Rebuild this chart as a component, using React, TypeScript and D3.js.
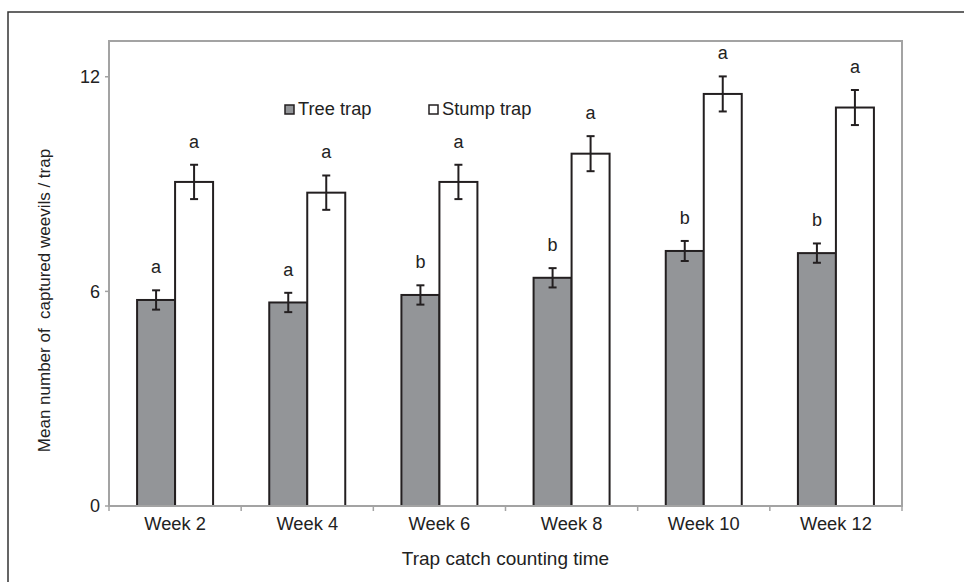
import React from 'react'
import * as d3 from 'd3'

const weeks = ['Week 2', 'Week 4', 'Week 6', 'Week 8', 'Week 10', 'Week 12']
const treeMeans = [5.76, 5.69, 5.9, 6.38, 7.13, 7.07]
const treeErr = [0.27, 0.27, 0.27, 0.27, 0.28, 0.27]
const treeLetters = ['a', 'a', 'b', 'b', 'b', 'b']
const stumpMeans = [9.06, 8.76, 9.06, 9.85, 11.52, 11.14]
const stumpErr = [0.48, 0.48, 0.48, 0.49, 0.49, 0.49]
const stumpLetters = ['a', 'a', 'a', 'a', 'a', 'a']
const yTicks = [0, 6, 12]

const W = 964
const H = 582
const left = 109
const right = 902
const top = 41
const bottom = 506
const barW = 38
const font = 'Arial, "Liberation Sans", sans-serif'

export default function App() {
  const x = d3.scaleBand<string>().domain(weeks).range([left, right])
  const y = d3.scaleLinear().domain([0, 13]).range([bottom, top])

  const series = [
    { name: 'Tree trap', means: treeMeans, err: treeErr, letters: treeLetters, fill: '#939598', off: -barW },
    { name: 'Stump trap', means: stumpMeans, err: stumpErr, letters: stumpLetters, fill: '#ffffff', off: 0 },
  ]

  const boundaries = [...weeks.map((w) => x(w) as number), right]

  return (
    <svg width={W} height={H} style={{ position: 'absolute', left: 0, top: 0, background: '#fff' }} fontFamily={font}>
      {/* outer frame */}
      <path d={`M8,${H + 5}V12H${W + 5}`} fill="none" stroke="#333" strokeWidth={1.5} />

      {/* plot box */}
      <rect x={left} y={top} width={right - left} height={bottom - top} fill="none" stroke="#a3a3a3" strokeWidth={2} />

      {/* y ticks */}
      {yTicks.map((t) => (
        <g key={t}>
          <line x1={left - 4} x2={left} y1={y(t)} y2={y(t)} stroke="#a3a3a3" strokeWidth={1.5} />
          <text x={left - 9} y={y(t)} dy="0.35em" textAnchor="end" fontSize={18} fill="#222">{t}</text>
        </g>
      ))}

      {/* x ticks */}
      {boundaries.map((b, i) => (
        <line key={i} x1={b} x2={b} y1={bottom} y2={bottom + 5} stroke="#a3a3a3" strokeWidth={1.5} />
      ))}
      {weeks.map((w) => (
        <text key={w} x={(x(w) as number) + x.bandwidth() / 2} y={bottom + 24} textAnchor="middle" fontSize={18.3} fill="#222">{w}</text>
      ))}

      {/* bars */}
      {series.map((s) =>
        weeks.map((w, i) => {
          const cx = (x(w) as number) + x.bandwidth() / 2 + s.off
          const mid = cx + barW / 2
          const hi = y(s.means[i] + s.err[i])
          const lo = y(s.means[i] - s.err[i])
          return (
            <g key={s.name + w}>
              <rect x={cx} y={y(s.means[i])} width={barW} height={bottom - y(s.means[i])} fill={s.fill} stroke="#231f20" strokeWidth={2} />
              <line x1={mid} x2={mid} y1={hi} y2={lo} stroke="#231f20" strokeWidth={2} />
              <line x1={mid - 4} x2={mid + 4} y1={hi} y2={hi} stroke="#231f20" strokeWidth={2} />
              <line x1={mid - 4} x2={mid + 4} y1={lo} y2={lo} stroke="#231f20" strokeWidth={2} />
              <text x={mid} y={hi - 17} textAnchor="middle" fontSize={18} fill="#222">{s.letters[i]}</text>
            </g>
          )
        })
      )}

      {/* axis line redrawn on top */}
      <line x1={left} x2={right} y1={bottom} y2={bottom} stroke="#a3a3a3" strokeWidth={2} />

      {/* legend */}
      <rect x={285} y={105} width={9} height={9} fill="#939598" stroke="#231f20" strokeWidth={1.5} />
      <text x={298} y={115} fontSize={18.3} fill="#222">Tree trap</text>
      <rect x={429} y={105} width={9} height={9} fill="#fff" stroke="#231f20" strokeWidth={1.5} />
      <text x={442} y={115} fontSize={18.3} fill="#222">Stump trap</text>

      {/* axis titles */}
      <text transform={`translate(50,${(top + bottom) / 2 + 27}) rotate(-90)`} textAnchor="middle" fontSize={17} fill="#222" style={{ whiteSpace: 'pre' }}>
        Mean number of  captured weevils / trap
      </text>
      <text x={(left + right) / 2} y={565} textAnchor="middle" fontSize={19} fill="#222">Trap catch counting time</text>
    </svg>
  )
}
